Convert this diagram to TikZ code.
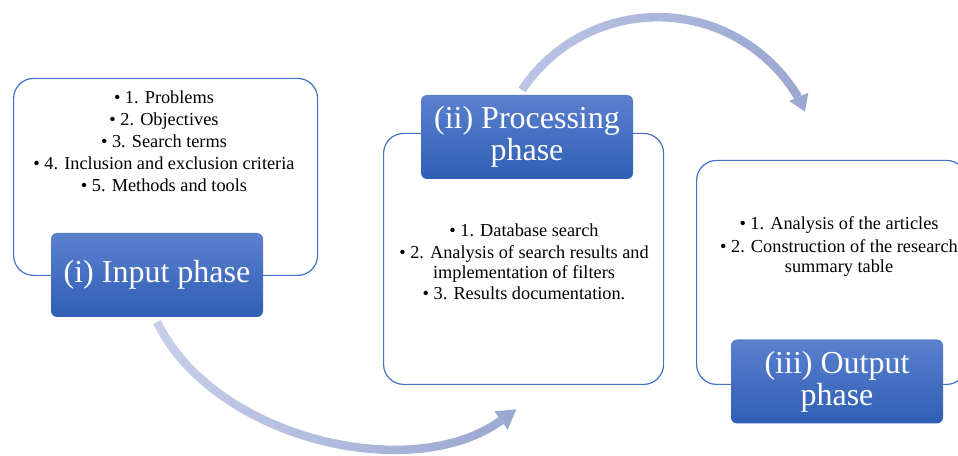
\documentclass[tikz,border=0pt]{standalone}
\usepackage{fontspec}
\setmainfont{Liberation Serif}
\usetikzlibrary{calc}
\definecolor{boxline}{HTML}{4472C4}
\definecolor{labtop}{HTML}{5B80CE}
\definecolor{labbot}{HTML}{2F5FB5}
\definecolor{arrA}{HTML}{C6CEE9}
\definecolor{arrB}{HTML}{9AA7D0}
\definecolor{arrC}{HTML}{BAC4E5}
\begin{document}
\begin{tikzpicture}[x=1pt,y=1pt,
  panel/.style={draw=boxline, line width=1.2pt, rounded corners=20pt, fill=white, anchor=south west, inner sep=0pt},
  phase/.style={rounded corners=6pt, top color=labtop, bottom color=labbot, draw=none, text=white,
    font=\fontsize{32}{32}\selectfont, align=center, inner sep=0pt, minimum width=212pt, minimum height=84pt},
  items/.style={align=center, font=\fontsize{18.3}{20}\selectfont, text=black, inner sep=0pt},
  shaft/.style={line width=8.5pt, line cap=butt}]
\useasboundingbox (0,0) rectangle (958,455);
\clip (0,0) rectangle (958,455);
% panels
\node[panel, minimum width=304pt, minimum height=197pt] (p1) at (13,179) {};
\node[panel, minimum width=280pt, minimum height=251pt] (p2) at (383,70) {};
\node[panel, minimum width=270pt, minimum height=224pt] (p3) at (696,70) {};
% phase labels
\node[phase] (l1) at (157,180) {(i) Input phase};
\node[phase] (l2) at (527,318) {(ii) Processing\\phase};
\node[phase] (l3) at (837,73.5) {(iii) Output\\phase};
% item texts
\node[items] (t1) at (164,313.5) {• 1. Problems\\[2pt]• 2. Objectives\\[2pt]• 3. Search terms\\[2pt]• 4. Inclusion and exclusion criteria\\[2pt]• 5. Methods and tools};
\node[items] (t2) at (524,193.5) {• 1. Database search\\[2pt]• 2. Analysis of search results and\\implementation of filters\\[1pt]• 3. Results documentation.};
\node[items] (t3) at (839,208.5) {• 1. Analysis of the articles\\[3pt]• 2. Construction of the research\\summary table};
% arrow 1 geometry
\coordinate (s1) at (157,133);
\coordinate (c1a) at (213.9,16.1);
\coordinate (c1b) at (412,-30.2);
\coordinate (e1) at (501,34.5);
\coordinate (h1t) at (516.4,45.7);
\coordinate (h1a) at (494.4,43.6);
\coordinate (h1b) at (507.6,25.4);
% arrow 2 geometry
\coordinate (s2) at (522,365);
\coordinate (e2) at (798.8,358.2);
\coordinate (h2t) at (805,343.3);
\coordinate (h2a) at (789.3,354);
\coordinate (h2b) at (808.3,362.3);
% arrow 1 with gradient
\foreach \i in {0,...,23} {
  \pgfmathsetmacro\xa{150+\i*15.5}
  \pgfmathsetmacro\xb{\xa+16.2}
  \pgfmathtruncatemacro\pc{100-\i*100/23}
  \begin{scope}
    \clip (\xa,0) rectangle (\xb,200);
    \draw[shaft, draw=arrA!\pc!arrB] (s1) .. controls (c1a) and (c1b) .. (e1);
    \fill[arrA!\pc!arrB] (h1t) -- (h1a) -- (h1b) -- cycle;
  \end{scope}
}
% arrow 2 with gradient
\foreach \i in {0,...,19} {
  \pgfmathsetmacro\xa{515+\i*15}
  \pgfmathsetmacro\xb{\xa+15.7}
  \pgfmathtruncatemacro\pc{100-\i*100/19}
  \begin{scope}
    \clip (\xa,300) rectangle (\xb,455);
    \draw[shaft, draw=arrC!\pc!arrB] (s2) arc[start angle=146.4, end angle=30.6, radius=163pt];
    \fill[arrC!\pc!arrB] (h2t) -- (h2a) -- (h2b) -- cycle;
  \end{scope}
}
\end{tikzpicture}
\end{document}
